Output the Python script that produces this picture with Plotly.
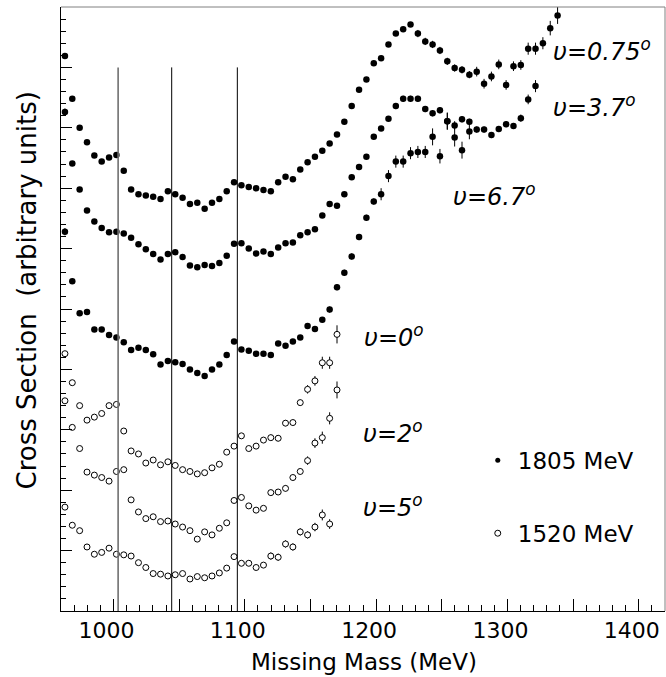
import plotly.graph_objects as go

# ---------------- data ----------------
mass = [963.0, 968.6, 974.2, 979.8, 985.4, 991.0, 996.6, 1002.2, 1007.8, 1013.4,
        1019.0, 1024.6, 1030.2, 1035.8, 1041.4, 1047.0, 1052.6, 1058.2, 1063.8, 1069.4,
        1075.0, 1080.6, 1086.2, 1091.8, 1097.4, 1103.0, 1108.6, 1114.2, 1119.8, 1125.4,
        1131.0, 1136.6, 1142.2, 1147.8, 1153.4, 1159.0, 1164.6, 1170.2, 1175.8, 1181.4,
        1187.0, 1192.6, 1198.2, 1203.8, 1209.4, 1215.0, 1220.6, 1226.2, 1231.8, 1237.4,
        1243.0, 1248.6, 1254.2, 1259.8, 1265.4, 1271.0, 1276.6, 1282.2, 1287.8, 1293.4,
        1299.0, 1304.6, 1310.2, 1315.8, 1321.4, 1327.0, 1332.6, 1338.2]

# 1805 MeV, theta = 0.75 deg
y_075 = [9.19, 8.48, 8.00, 7.76, 7.54, 7.44, 7.51, 7.55, 7.29, 6.98,
         6.90, 6.88, 6.86, 6.82, 6.95, 6.90, 6.84, 6.74, 6.76, 6.66,
         6.76, 6.82, 6.95, 7.10, 7.05, 7.02, 7.00, 6.97, 6.95, 7.10,
         7.19, 7.15, 7.31, 7.43, 7.52, 7.62, 7.74, 7.89, 8.10, 8.36,
         8.63, 8.80, 9.07, 9.15, 9.38, 9.56, 9.63, 9.71, 9.56, 9.43,
         9.38, 9.28, 9.10, 8.99, 8.96, 8.88, 8.93, 8.73, 8.85, 9.05,
         8.71, 9.02, 9.04, 9.31, 9.31, 9.40, 9.65, 9.86]
e_075 = [0.03] * 40 + [0.04] * 8 + [0.06] * 8 + [0.08] * 7 + [0.10, 0.10, 0.10, 0.12, 0.14]

# 1805 MeV, theta = 3.7 deg
y_37 = [8.26, 7.41, 6.98, 6.63, 6.45, 6.34, 6.27, 6.28, 6.25, 6.18,
        6.07, 5.99, 5.91, 5.82, 5.91, 5.94, 5.86, 5.72, 5.69, 5.73,
        5.71, 5.76, 5.88, 6.08, 6.09, 6.00, 5.92, 5.95, 5.91, 6.02,
        6.09, 6.10, 6.22, 6.27, 6.32, 6.55, 6.74, 6.71, 6.90, 7.18,
        7.35, 7.52, 7.85, 7.99, 8.15, 8.36, 8.48, 8.48, 8.48, 8.31,
        8.24, 8.29, 8.11, 8.04, 8.14, 8.10, 7.97, 7.97, 7.88, 7.98,
        8.06, 8.03, 8.16, 8.47, 8.69]
e_37 = [0.06] + [0.03] * 44 + [0.05] * 7 + [0.14, 0.07] + [0.05] * 8 + [0.06, 0.08, 0.10]

# 1805 MeV, theta = 6.7 deg
y_67 = [6.28, 5.46, 4.93, 4.95, 4.66, 4.66, 4.57, 4.53, 4.45, 4.32,
        4.36, 4.32, 4.25, 4.08, 4.14, 4.12, 4.09, 4.00, 3.94, 3.89,
        4.00, 4.08, 4.24, 4.46, 4.33, 4.31, 4.26, 4.26, 4.24, 4.43,
        4.39, 4.46, 4.53, 4.72, 4.67, 4.82, 4.99, 5.36, 5.60, 5.87,
        6.19, 6.51, 6.78, 6.90, 7.20, 7.44, 7.44, 7.58, 7.60, 7.60,
        7.85, 7.53, 8.11, 7.84, 7.63, 7.94]
e_67 = [0.06, 0.04] + [0.03] * 34 + [0.05] * 7 + [0.10] * 7 + [0.14, 0.12, 0.14, 0.15, 0.14, 0.13]

# 1520 MeV, theta = 0 deg
y_0 = [4.26, 3.78, 3.40, 3.16, 3.21, 3.27, 3.40, 3.42, 2.98, 2.65,
       2.60, 2.45, 2.50, 2.42, 2.47, 2.41, 2.34, 2.31, 2.27, 2.29,
       2.37, 2.43, 2.63, 2.73, 2.90, 2.69, 2.73, 2.83, 2.87, 2.86,
       3.11, 3.12, 3.45, 3.67, 3.81, 4.11, 4.11, 4.58]
e_0 = [0.03] * 28 + [0.05] * 5 + [0.07, 0.08, 0.10, 0.10, 0.15]

# 1520 MeV, theta = 2 deg
y_2 = [3.48, 3.04, 2.69, 2.30, 2.25, 2.21, 2.15, 2.31, 2.34, 1.84,
       1.64, 1.53, 1.56, 1.48, 1.49, 1.44, 1.39, 1.33, 1.19, 1.31,
       1.26, 1.37, 1.46, 1.83, 1.88, 1.74, 1.67, 1.70, 1.96, 1.97,
       2.03, 2.21, 2.31, 2.49, 2.78, 2.87, 3.19, 3.66]
e_2 = [0.03] * 28 + [0.05] * 5 + [0.07, 0.08, 0.10, 0.10, 0.14]

# 1520 MeV, theta = 5 deg
y_5 = [1.72, 1.42, 1.33, 1.06, 0.94, 0.97, 1.04, 0.94, 0.93, 0.91,
       0.80, 0.72, 0.62, 0.61, 0.58, 0.60, 0.62, 0.53, 0.57, 0.55,
       0.58, 0.63, 0.71, 0.90, 0.79, 0.79, 0.72, 0.76, 0.91, 0.89,
       1.11, 1.06, 1.31, 1.26, 1.39, 1.59, 1.44]
e_5 = [0.03] * 28 + [0.06] * 6 + [0.07, 0.09, 0.08]

cut_lines = [1003.5, 1044.3, 1094.3]   # vertical markers (MeV)
cut_top = 9.0

x_ticks = [1000, 1050, 1100, 1150, 1200, 1250, 1300, 1350, 1400]
x_ticktext = ["1000", "", "1100", "", "1200", "", "1300", "", "1400"]

labels = ["υ=0.75<sup>o</sup>", "υ=3.7<sup>o</sup>", "υ=6.7<sup>o</sup>",
          "υ=0<sup>o</sup>", "υ=2<sup>o</sup>", "υ=5<sup>o</sup>"]
label_x = [1372, 1366, 1290, 1213.6, 1212.9, 1212.9]
label_y = [9.28, 8.36, 6.88, 4.55, 2.96, 1.74]

legend_names = ["1805 MeV", "1520 MeV"]

FONT = "DejaVu Sans"

# ---------------- figure ----------------
fig = go.Figure()

def add_series(y, e, filled):
    n = len(y)
    if filled:
        marker = dict(symbol="circle", size=6.5, color="black", line=dict(width=0))
    else:
        marker = dict(symbol="circle", size=6, color="white", line=dict(color="black", width=1))
    fig.add_trace(go.Scatter(
        x=mass[:n], y=y, mode="markers", marker=marker, showlegend=False,
        error_y=dict(type="data", array=e, color="black", thickness=1, width=0),
        hoverinfo="skip"))

add_series(y_075, e_075, True)
add_series(y_37, e_37, True)
add_series(y_67, e_67, True)
add_series(y_0, e_0, False)
add_series(y_2, e_2, False)
add_series(y_5, e_5, False)

# legend-only entries
fig.add_trace(go.Scatter(x=[None], y=[None], mode="markers", name=legend_names[0],
                         marker=dict(symbol="circle", size=5, color="black"),
                         legendgroup="a", showlegend=True))
fig.add_trace(go.Scatter(x=[None], y=[None], mode="markers", name=legend_names[1],
                         marker=dict(symbol="circle", size=6, color="white",
                                     line=dict(color="black", width=1)),
                         legendgroup="b", showlegend=True))

shapes = []
for i, xv in enumerate(cut_lines):
    shapes.append(dict(type="line", xref="x", yref="y", x0=xv, x1=xv, y0=0, y1=cut_top,
                       line=dict(color="#707070" if i == 0 else "black", width=1.6 if i == 0 else 1)))
shapes.append(dict(type="line", xref="paper", yref="paper", x0=0, x1=1, y0=1, y1=1,
                   line=dict(color="#808080", width=1)))
shapes.append(dict(type="line", xref="paper", yref="paper", x0=1, x1=1, y0=0, y1=1,
                   line=dict(color="#808080", width=1)))

annotations = []
for t, xv, yv in zip(labels, label_x, label_y):
    annotations.append(dict(text=t, x=xv, y=yv, xref="x", yref="y", showarrow=False,
                            xanchor="center", yanchor="middle",
                            font=dict(family=FONT, size=24, color="black", style="italic")))
annotations.append(dict(text="Cross Section\u00a0 (arbitrary units)", x=-0.056, y=0.531,
                        xref="paper", yref="paper", textangle=-90, showarrow=False,
                        xanchor="center", yanchor="middle",
                        font=dict(family=FONT, size=26, color="black")))
annotations.append(dict(text="Missing Mass (MeV)", x=0.501, y=-0.0844,
                        xref="paper", yref="paper", showarrow=False,
                        xanchor="center", yanchor="middle",
                        font=dict(family=FONT, size=23, color="black")))

fig.update_layout(
    width=666, height=677,
    margin=dict(l=61, r=1, t=7, b=66),
    paper_bgcolor="white", plot_bgcolor="white",
    shapes=shapes, annotations=annotations,
    legend=dict(x=0.69, y=0.285, xanchor="left", yanchor="top",
                font=dict(family=FONT, size=23, color="black"),
                bgcolor="rgba(0,0,0,0)", tracegroupgap=40, itemsizing="trace"),
    xaxis=dict(range=[960, 1420], tickmode="array", tickvals=x_ticks, ticktext=x_ticktext,
               ticks="inside", ticklen=12, tickcolor="black", tickwidth=1,
               minor=dict(tick0=1000, dtick=10, ticks="inside", ticklen=6, tickcolor="black"),
               showgrid=False, zeroline=False, showline=True, linecolor="black", linewidth=1,
               tickfont=dict(family=FONT, size=22, color="black"), ticklabelshift=-7),
    yaxis=dict(range=[0, 10], tickmode="array", tickvals=list(range(0, 11)),
               ticks="inside", ticklen=11, tickcolor="black", tickwidth=1,
               minor=dict(tick0=0, dtick=0.2, ticks="inside", ticklen=5, tickcolor="black"),
               showticklabels=False, showgrid=False, zeroline=False,
               showline=True, linecolor="black", linewidth=1),
)

fig.write_html("out.html", config={"displayModeBar": False},
               post_script="document.body.style.margin='0';document.body.style.overflow='hidden';")
